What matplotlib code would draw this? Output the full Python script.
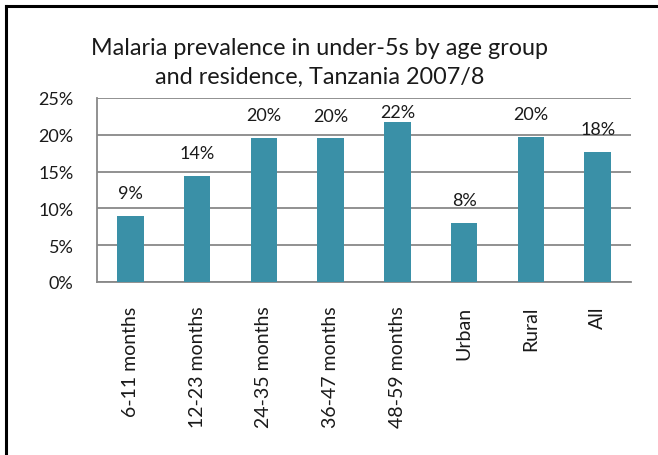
import matplotlib
matplotlib.use('Agg')
import matplotlib.pyplot as plt
from matplotlib.lines import Line2D
from matplotlib.ticker import FuncFormatter

categories = ['6-11 months', '12-23 months', '24-35 months', '36-47 months',
              '48-59 months', 'Urban', 'Rural', 'All']
prevalence = [9.0, 14.4, 19.6, 19.5, 21.8, 8.0, 19.7, 17.7]
value_labels = ['9%', '14%', '20%', '20%', '22%', '8%', '20%', '18%']
y_ticks = [0, 5, 10, 15, 20, 25]

BAR_COLOR = '#3A90A7'
GRID_COLOR = '#888888'

plt.rcParams['font.family'] = ['Lato', 'DejaVu Sans']

fig = plt.figure(figsize=(6.58, 4.56), dpi=100)
ax = fig.add_axes([0.1474, 0.3794, 0.8116, 0.4035])

x = list(range(len(categories)))
ax.bar(x, prevalence, width=0.4, color=BAR_COLOR, zorder=3)

for xi, v, lab in zip(x, prevalence, value_labels):
  ax.text(xi, min(v + 3.1, 23.1), lab, ha='center', va='center',
          fontsize=13, color='#1a1a1a', zorder=4)

ax.set_xlim(-0.5, len(categories) - 0.5)
ax.set_ylim(0, 25)
ax.set_yticks(y_ticks)
ax.yaxis.set_major_formatter(FuncFormatter(lambda v, p: '{:.0f}%'.format(v)))
ax.set_xticks(x)
ax.set_xticklabels(categories, rotation=90, va='top', ha='center')

ax.tick_params(axis='both', length=0, colors='#1a1a1a')
ax.tick_params(axis='y', pad=17, labelsize=13)
ax.tick_params(axis='x', pad=17, labelsize=14)

ax.grid(axis='y', color=GRID_COLOR, linewidth=1.3, zorder=0)
for side in ['top', 'right']:
  ax.spines[side].set_visible(False)
for side in ['left', 'bottom']:
  ax.spines[side].set_color(GRID_COLOR)
  ax.spines[side].set_linewidth(1.3)

fig.text(0.486, 0.862, 'Malaria prevalence in under-5s by age group\nand residence, Tanzania 2007/8',
         ha='center', va='center', fontsize=16.8, linespacing=1.5, color='#1a1a1a')

# outer chart border (left and top edges visible)
fig.add_artist(Line2D([6 / 658, 6 / 658], [0, 1 - 7 / 456], color='black', linewidth=2.2,
                      transform=fig.transFigure))
fig.add_artist(Line2D([6 / 658, 1], [1 - 7 / 456, 1 - 7 / 456], color='black', linewidth=2.2,
                      transform=fig.transFigure))

fig.savefig('out.png', dpi=100)
